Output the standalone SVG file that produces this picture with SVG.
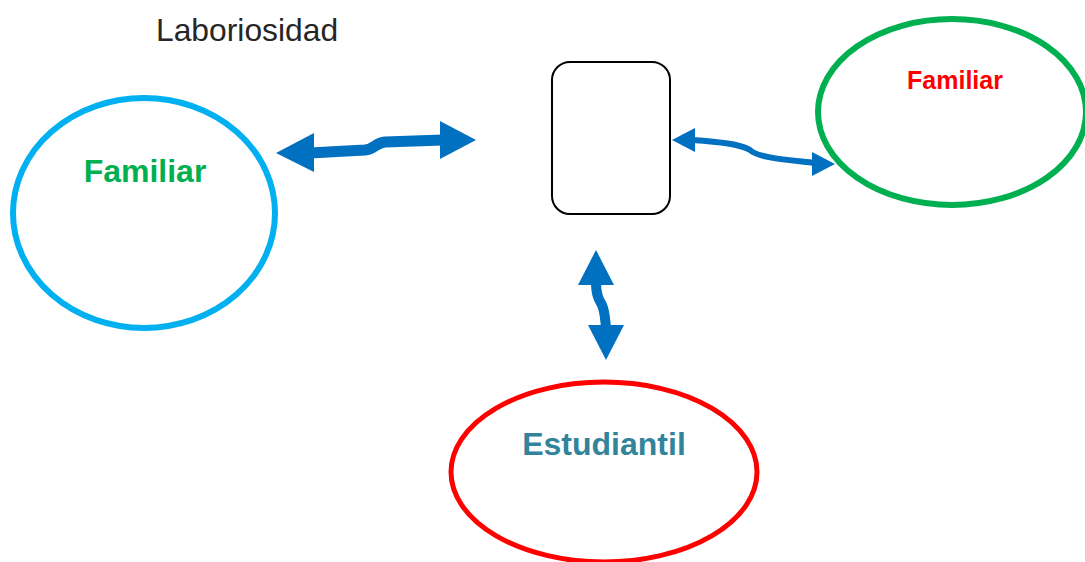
<svg xmlns="http://www.w3.org/2000/svg" width="1085" height="562" viewBox="0 0 1085 562">
<style>
.shaft{fill:none;stroke:#0070C0;stroke-linecap:butt}
.head{fill:#0070C0}
.lbl{font-family:"Liberation Sans",Arial,sans-serif;font-weight:bold;text-anchor:middle}
</style>
<rect width="1085" height="562" fill="#fff"/>
<text x="156" y="41" font-family="Liberation Sans, Arial, sans-serif" font-size="31.8" fill="#262626">Laboriosidad</text>
<g id="node-center">
<rect x="552" y="62" width="118" height="152" rx="18" fill="#fff" stroke="#000" stroke-width="2"/>
</g>
<g id="node-left">
<ellipse cx="144" cy="213" rx="131" ry="115" fill="none" stroke="#00B0F0" stroke-width="6"/>
<text class="lbl" x="145" y="182" font-size="32" fill="#00B050">Familiar</text>
</g>
<g id="node-right">
<ellipse cx="952" cy="112" rx="134" ry="93" fill="none" stroke="#00B050" stroke-width="6"/>
<text class="lbl" x="955" y="89" font-size="25" fill="#FF0000">Familiar</text>
</g>
<g id="node-bottom">
<ellipse cx="604" cy="472" rx="153" ry="90" fill="none" stroke="#FF0000" stroke-width="5"/>
<text class="lbl" x="604" y="455" font-size="32" fill="#31849B">Estudiantil</text>
</g>
<g id="connectors">
<path class="shaft" stroke-width="11" d="M310,153 L365,150 C375,149 375,143 385,142 L443,140"/>
<polygon class="head" points="276,153 314,133 314,172"/>
<polygon class="head" points="476,140 440,121 440,159"/>
<path class="shaft" stroke-width="6" d="M692,140 C720,142 740,144 750,150 C758,158 790,160 815,163"/>
<polygon class="head" points="672,140 695,128 695,152"/>
<polygon class="head" points="835,164 812,152 812,176"/>
<path class="shaft" stroke-width="10" d="M596,282 C596,295 599,300 602,305 C605,312 605,318 606,328"/>
<polygon class="head" points="596,250 578,285 614,285"/>
<polygon class="head" points="606,360 588,325 624,325"/>
</g>
</svg>
